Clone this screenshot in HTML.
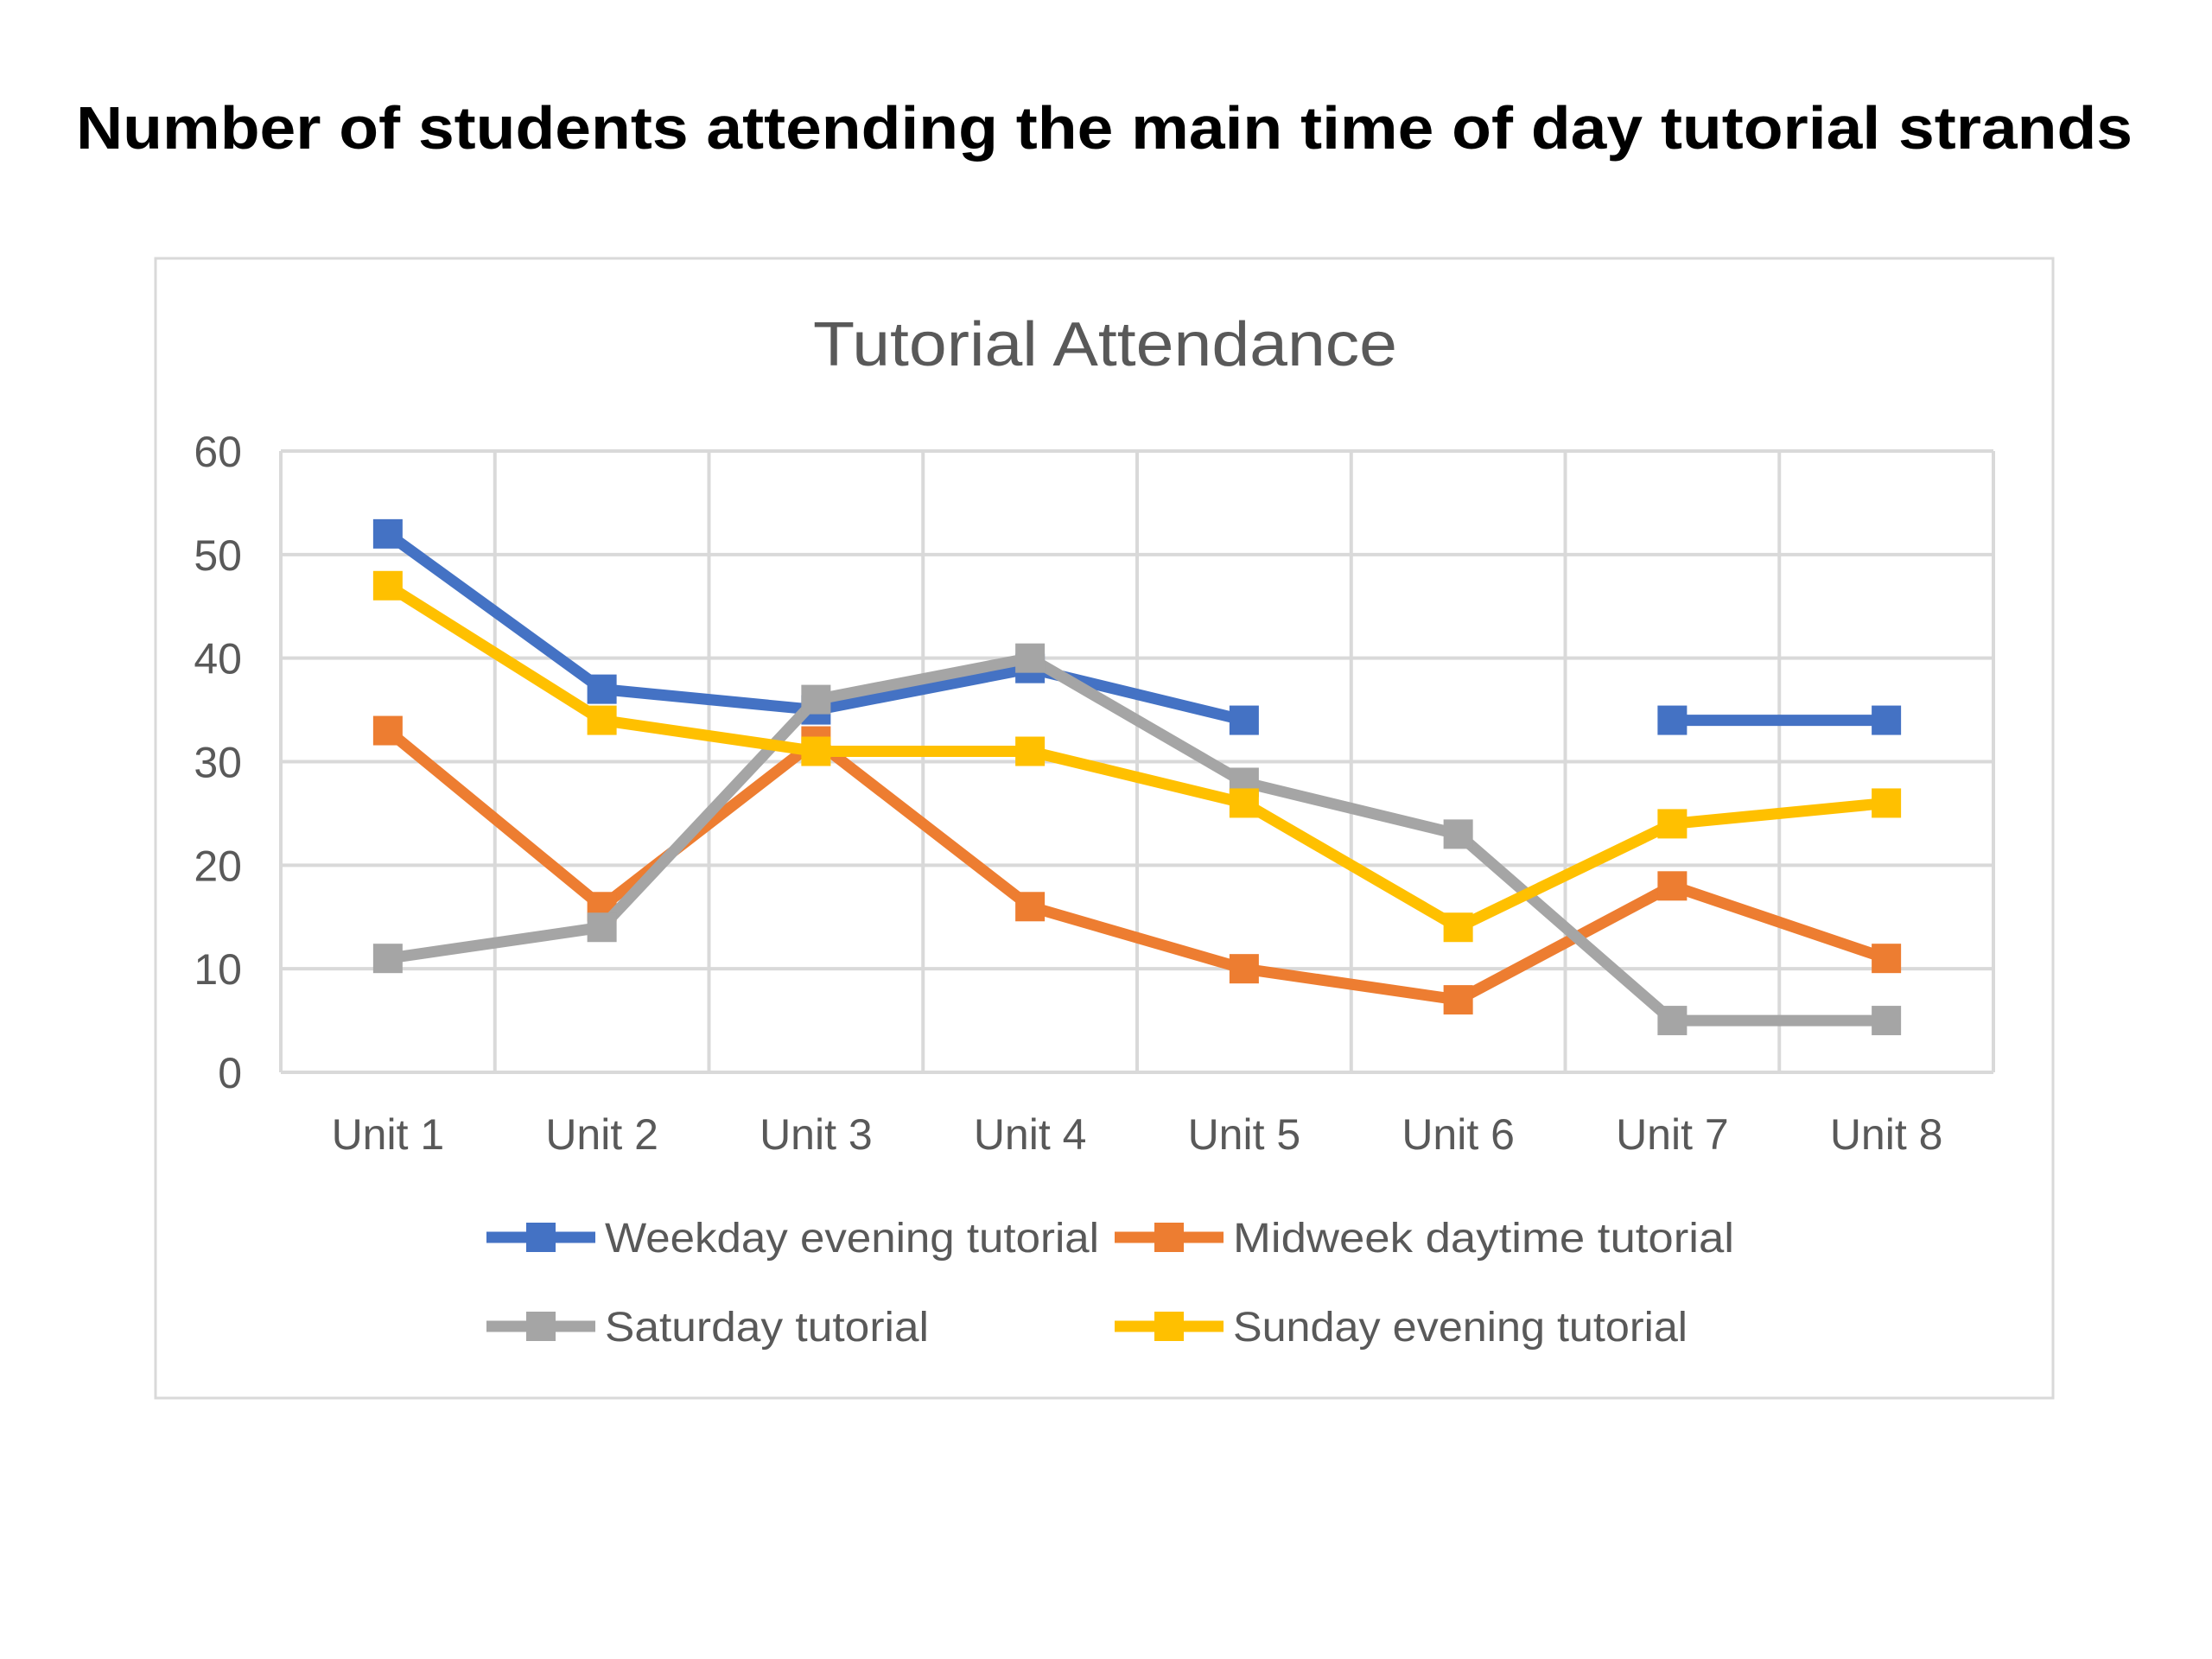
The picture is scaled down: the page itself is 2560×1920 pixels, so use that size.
<!DOCTYPE html>
<html><head><meta charset="utf-8"><style>
html,body{margin:0;padding:0;background:#fff;}
svg{display:block;font-family:"Liberation Sans",sans-serif;}
</style></head><body>
<svg id="chart" width="2560" height="1920" viewBox="0 0 2560 1920" xmlns="http://www.w3.org/2000/svg">
<rect x="0" y="0" width="2560" height="1920" fill="#fff"/>
<text x="1278" y="172" text-anchor="middle" font-size="70" font-weight="bold" fill="#000" textLength="2380" lengthAdjust="spacingAndGlyphs">Number of students attending the main time of day tutorial strands</text>
<rect x="180" y="299" width="2196" height="1319" fill="#fff" stroke="#d9d9d9" stroke-width="3"/>
<text x="1279" y="423" text-anchor="middle" font-size="72" fill="#595959" textLength="676" lengthAdjust="spacingAndGlyphs">Tutorial Attendance</text>
<g id="grid"></g><g id="axes"></g><g id="series"></g><g id="legend"></g>
</svg>
<script>
const categories = ["Unit 1","Unit 2","Unit 3","Unit 4","Unit 5","Unit 6","Unit 7","Unit 8"];
const yTicks = [0,10,20,30,40,50,60];
const weekday = [52,37,35,39,34,null,34,34];
const midweek = [33,16,32,16,10,7,18,11];
const saturday = [11,14,36,40,28,23,5,5];
const sunday = [47,34,31,31,26,14,24,26];
const seriesNames = ["Weekday evening tutorial","Midweek daytime tutorial","Saturday tutorial","Sunday evening tutorial"];

const NS="http://www.w3.org/2000/svg";
const L=325,R=2307,T=522,B=1241,YMAX=60;
const colors=["#4472C4","#ED7D31","#A5A5A5","#FFC000"];
const step=(R-L)/categories.length;
function xs(i){return L+step*(i+0.5);}
function ys(v){return B-(v/YMAX)*(B-T);}
function mk(tag,attrs,parent){const e=document.createElementNS(NS,tag);for(const k in attrs)e.setAttribute(k,attrs[k]);parent.appendChild(e);return e;}
const grid=document.getElementById('grid'),axes=document.getElementById('axes'),ser=document.getElementById('series'),leg=document.getElementById('legend');
yTicks.forEach(v=>{
  const g=mk('line',{x1:L,x2:R,y1:ys(v),y2:ys(v),stroke:'#d9d9d9','stroke-width':4},grid);
  
  
  const t=mk('text',{x:280,y:ys(v)+18,'text-anchor':'end','font-size':50,fill:'#595959'},axes);
  t.textContent=v;
  
  
});
for(let i=0;i<=categories.length;i++){
  const g=mk('line',{x1:L+step*i,x2:L+step*i,y1:T,y2:B,stroke:'#d9d9d9','stroke-width':4},grid);
  
  
}
categories.forEach((c,i)=>{
  const t=mk('text',{x:xs(i),y:1330,'text-anchor':'middle','font-size':50,fill:'#595959'},axes);
  t.textContent=c;
  
  
});
[weekday,midweek,saturday,sunday].forEach((data,si)=>{
  const g=mk('g',{},ser);
  
  
  let d='',pen=false;
  data.forEach((v,i)=>{if(v==null){pen=false;return;}d+=(pen?'L':'M')+xs(i)+' '+ys(v)+' ';pen=true;});
  const p=mk('path',{d:d,fill:'none',stroke:colors[si],'stroke-width':13,'stroke-linejoin':'round'},g);
  
  
  data.forEach((v,i)=>{if(v==null)return;
    const r=mk('rect',{x:xs(i)-17,y:ys(v)-17,width:34,height:34,fill:colors[si]},g);
    
    
  });
});
const legPos=[[563,1432],[1290,1432],[563,1535],[1290,1535]];
seriesNames.forEach((n,si)=>{
  const x=legPos[si][0],y=legPos[si][1];
  const g=mk('g',{},leg);
  
  
  mk('line',{x1:x,x2:x+126,y1:y,y2:y,stroke:colors[si],'stroke-width':13},g);
  mk('rect',{x:x+46,y:y-17,width:34,height:34,fill:colors[si]},g);
  const w=[572,580,375,526][si];
  const t=mk('text',{x:x+137,y:y+17,'font-size':48,fill:'#595959',textLength:w,lengthAdjust:'spacingAndGlyphs'},g);
  t.textContent=n;
  
  
});
</script>
</body></html>
